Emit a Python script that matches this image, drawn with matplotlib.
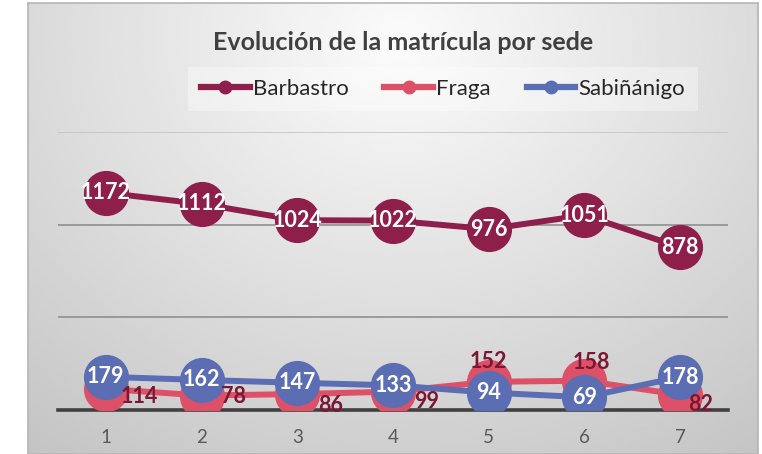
import matplotlib.pyplot as plt
import numpy as np
from matplotlib.lines import Line2D

# datos
sedes = ['Barbastro', 'Fraga', 'Sabiñánigo']
cursos = [1, 2, 3, 4, 5, 6, 7]
barbastro = [1172, 1112, 1024, 1022, 976, 1051, 878]
fraga = [114, 78, 86, 99, 152, 158, 82]
sabinanigo = [179, 162, 147, 133, 94, 69, 178]

c_barb = '#8E1F4B'
c_fraga = '#DC5068'
c_sab = '#5B6DB3'
c_lab_fraga = '#7A1732'

plt.rcParams['font.family'] = ['Lato', 'DejaVu Sans']

W, H = 762, 454
fig = plt.figure(figsize=(W / 100, H / 100), dpi=100)
fig.patch.set_facecolor('white')

# fondo con degradado radial
bg = fig.add_axes([28 / W, 0, (758 - 28) / W, (454 - 3) / H])
xx, yy = np.meshgrid(np.linspace(28, 758, 300), np.linspace(3, 454, 200))
d = np.sqrt(((xx - 400) / 600) ** 2 + ((yy - 40) / 500) ** 2)
val = np.clip(0.985 - 0.21 * d, 0, 1)
bg.imshow(val, cmap='gray', vmin=0, vmax=1, aspect='auto',
          extent=[0, 1, 0, 1], interpolation='bilinear')
bg.set_xticks([])
bg.set_yticks([])
for s in bg.spines.values():
    s.set_color('#b5b5b5')
    s.set_linewidth(1.2)

ax = fig.add_axes([58 / W, (H - 410) / H, (728 - 58) / W, (410 - 132) / H])
ax.set_facecolor('none')

ax.plot(cursos, fraga, color=c_fraga, lw=4.3, marker='o', ms=31.5,
        zorder=3, label='Fraga')
ax.plot(cursos, sabinanigo, color=c_sab, lw=4.3, marker='o', ms=31.5,
        zorder=4, label='Sabiñánigo')
ax.plot(cursos, barbastro, color=c_barb, lw=4.3, marker='o', ms=31.5,
        zorder=5, label='Barbastro')

for x, v in zip(cursos, barbastro):
    ax.text(x, v, str(v), color='white', fontsize=15.5, fontweight='bold',
            ha='center', va='center', zorder=6)
for x, v in zip(cursos, sabinanigo):
    ax.text(x, v, str(v), color='white', fontsize=15.5, fontweight='bold',
            ha='center', va='center', zorder=6)

# desplazamientos de etiquetas de Fraga (pixeles)
desp = [(33, -8), (32, -1), (33, -11), (34, -10), (0, 20), (7, 18), (20, -10)]
for x, v, (dx, dy) in zip(cursos, fraga, desp):
    ax.annotate(str(v), (x, v), xytext=(dx, dy), textcoords='offset pixels',
                color=c_lab_fraga, fontsize=15.5, fontweight='bold',
                ha='center', va='center', zorder=7)

ax.set_xlim(0.5, 7.5)
ax.set_ylim(0, 1500)
ax.set_xticks(cursos)
ax.set_yticks([0, 500, 1000, 1500])
ax.set_yticklabels([])
ax.tick_params(axis='both', length=0)
ax.tick_params(axis='x', labelsize=13.5, labelcolor='#595959', pad=14)
ax.grid(axis='y', color='#8f8f8f', lw=1.2)
ax.get_ygridlines()[-1].set_color('#c4c4c4')
ax.set_axisbelow(True)
for s in ['top', 'right', 'left']:
    ax.spines[s].set_visible(False)
ax.spines['bottom'].set_color('#404040')
ax.spines['bottom'].set_linewidth(2.6)
ax.spines['bottom'].set_zorder(2)

fig.text(403 / W, 1 - 42 / H, 'Evolución de la matrícula por sede',
         ha='center', va='center', fontsize=18, fontweight='bold',
         color='#404040')

handles = [Line2D([], [], color=c, lw=4.5, marker='o', ms=9)
           for c in [c_barb, c_fraga, c_sab]]
leg = fig.legend(handles, sedes, loc='center', bbox_to_anchor=(443 / W, 1 - 89 / H),
                 ncol=3, frameon=True, fontsize=16, handlelength=2.2,
                 handletextpad=0.15, columnspacing=1.6, borderpad=0.55)
leg.get_frame().set_facecolor('white')
leg.get_frame().set_alpha(0.35)
leg.get_frame().set_edgecolor('none')
leg.get_frame().set_boxstyle('square', pad=0)
for t in leg.get_texts():
    t.set_color('#262626')

fig.savefig('out.png', dpi=100)
